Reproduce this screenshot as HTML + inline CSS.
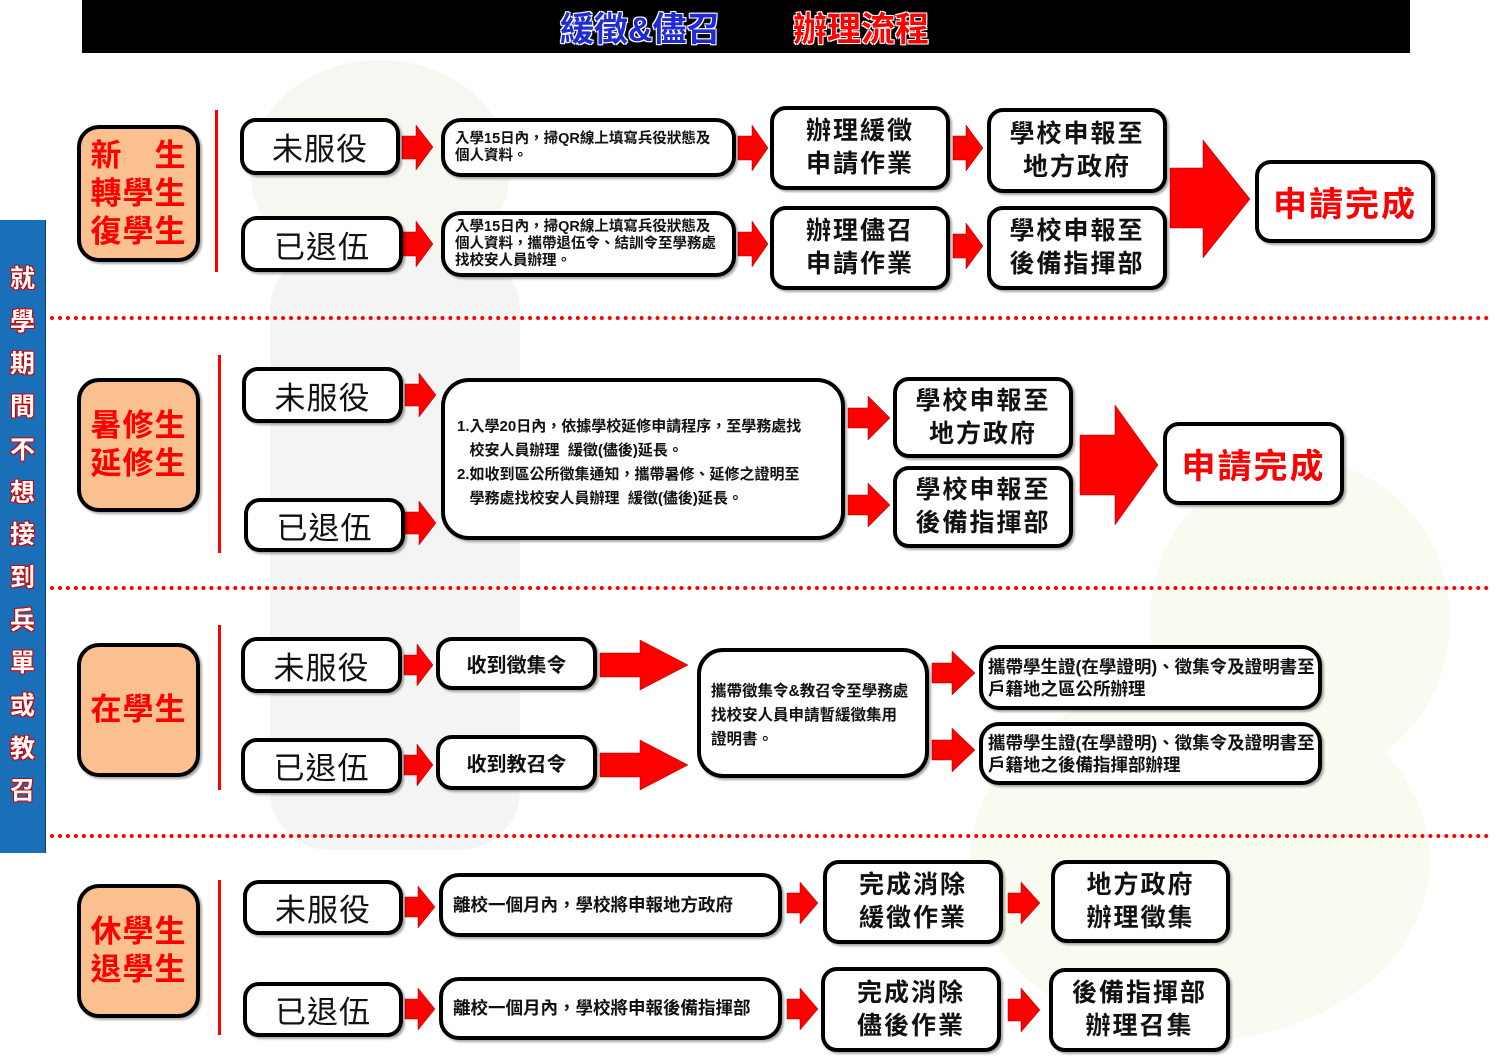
<!DOCTYPE html>
<html><head><meta charset="utf-8">
<style>
html,body{margin:0;padding:0;}
body{width:1500px;height:1060px;position:relative;background:#fff;overflow:hidden;font-family:"Liberation Sans","Noto Sans CJK TC",sans-serif;font-weight:bold;}
.a{position:absolute;}
.b{position:absolute;box-sizing:border-box;border:4px solid #000;border-radius:16px;background:#fff;display:flex;align-items:center;justify-content:center;text-align:center;color:#111;box-shadow:2px 2px 2px rgba(0,0,0,.35);}
.s{font-size:31px;font-weight:normal;letter-spacing:1px;}
.m{font-size:25px;line-height:33px;letter-spacing:2px;}
.t{font-size:14.5px;line-height:17px;justify-content:flex-start;text-align:left;padding-left:10px;border-radius:20px;white-space:nowrap;}
.c{background:#fbc08f;color:#f00;font-size:31px;line-height:38px;border-radius:22px;letter-spacing:1px;}
.v{position:absolute;width:3px;background:#f00;}
.d{position:absolute;left:50px;width:1440px;border-top:4px dotted #f00;}
.done{color:#f00;font-size:34px;letter-spacing:2px;}
</style></head><body>
<svg class="a" style="left:0;top:0" width="1500" height="1060">
<ellipse cx="380" cy="170" rx="130" ry="110" fill="#f5f7f0"/>
<rect x="270" y="250" width="250" height="600" rx="60" fill="#f4f4f4"/>
<ellipse cx="1300" cy="620" rx="150" ry="160" fill="#fafbf0"/>
<ellipse cx="1200" cy="860" rx="230" ry="180" fill="#fafbf0"/>
</svg>
<div class="a" style="left:82px;top:0;width:1328px;height:53px;background:#000;"></div>
<div class="a" style="left:560px;top:2px;font-size:34px;color:#1f2ad8;text-shadow:0 0 2px #fff,1px 1px 0 #fff,-1px -1px 0 #fff,1px -1px 0 #fff,-1px 1px 0 #fff;">緩徵&amp;儘召</div>
<div class="a" style="left:793px;top:2px;font-size:34px;color:#f00;text-shadow:0 0 2px #fff,1px 1px 0 #fff,-1px -1px 0 #fff,1px -1px 0 #fff,-1px 1px 0 #fff;">辦理流程</div>
<div class="a" style="left:0;top:220px;width:45px;height:633px;background:#1a70b8;border-right:1px solid #0a3a70;"></div>
<div class="a" style="left:0;top:258px;width:45px;text-align:center;font-size:25px;line-height:42.7px;color:#fff;text-shadow:1px 1px 0 #c00,-1px -1px 0 #c00,1px -1px 0 #c00,-1px 1px 0 #c00;">就<br>學<br>期<br>間<br>不<br>想<br>接<br>到<br>兵<br>單<br>或<br>教<br>召</div>

<div class="d" style="top:316px"></div>
<div class="d" style="top:586px"></div>
<div class="d" style="top:834px"></div>

<svg class="a" style="left:0;top:0" width="1500" height="1060" fill="#f00" stroke="#900" stroke-width="0.5">
<polygon points="402,136 416,136 416,125 433,147 416,170 416,159 402,159"/>
<polygon points="402,232 416,232 416,221 433,244 416,267 416,256 402,256"/>
<polygon points="738,136 752,136 752,125 768,148 752,171 752,160 738,160"/>
<polygon points="738,232 752,232 752,221 768,244 752,267 752,256 738,256"/>
<polygon points="953,136 966,136 966,125 983,148 966,171 966,160 953,160"/>
<polygon points="953,234 966,234 966,223 983,246 966,269 966,258 953,258"/>
<polygon points="1170,168 1203,168 1203,140 1250,199 1203,258 1203,228 1170,228"/>
<polygon points="405,384 419,384 419,373 436,395 419,417 419,406 405,406"/>
<polygon points="405,512 419,512 419,501 436,523 419,545 419,534 405,534"/>
<polygon points="848,408 868,408 868,396 890,418 868,440 868,428 848,428"/>
<polygon points="848,495 868,495 868,483 890,505 868,527 868,515 848,515"/>
<polygon points="1080,435 1115,435 1115,405 1158,465 1115,525 1115,495 1080,495"/>
<polygon points="404,655 417,655 417,644 433,665 417,686 417,675 404,675"/>
<polygon points="404,755 417,755 417,744 433,765 417,786 417,775 404,775"/>
<polygon points="600,653 640,653 640,640 688,665 640,690 640,677 600,677"/>
<polygon points="600,753 640,753 640,740 688,765 640,790 640,777 600,777"/>
<polygon points="932,663 952,663 952,651 975,673 952,695 952,683 932,683"/>
<polygon points="932,740 952,740 952,728 975,750 952,772 952,760 932,760"/>
<polygon points="405,897 418,897 418,886 435,907 418,928 418,917 405,917"/>
<polygon points="405,999 418,999 418,988 435,1009 418,1030 418,1019 405,1019"/>
<polygon points="787,893 800,893 800,882 818,903 800,924 800,913 787,913"/>
<polygon points="787,999 800,999 800,988 818,1009 800,1030 800,1019 787,1019"/>
<polygon points="1008,893 1021,893 1021,882 1040,903 1021,924 1021,913 1008,913"/>
<polygon points="1008,999 1021,999 1021,988 1040,1010 1021,1032 1021,1021 1008,1021"/>
</svg>

<!-- Section 1 -->
<div class="b c" style="left:77px;top:125px;width:123px;height:137px;">新　生<br>轉學生<br>復學生</div>
<div class="v" style="left:215px;top:110px;height:162px"></div>
<div class="b s" style="left:240px;top:118px;width:160px;height:57px;">未服役</div>
<div class="b s" style="left:241px;top:216px;width:162px;height:56px;">已退伍</div>
<div class="b t" style="left:441px;top:118px;width:295px;height:59px;">入學15日內，掃QR線上填寫兵役狀態及<br>個人資料。</div>
<div class="b t" style="left:441px;top:211px;width:295px;height:66px;">入學15日內，掃QR線上填寫兵役狀態及<br>個人資料，攜帶退伍令、結訓令至學務處<br>找校安人員辦理。</div>
<div class="b m" style="left:770px;top:106px;width:180px;height:84px;">辦理緩徵<br>申請作業</div>
<div class="b m" style="left:770px;top:206px;width:180px;height:84px;">辦理儘召<br>申請作業</div>
<div class="b m" style="left:987px;top:108px;width:180px;height:85px;">學校申報至<br>地方政府</div>
<div class="b m" style="left:987px;top:206px;width:180px;height:84px;">學校申報至<br>後備指揮部</div>
<div class="b done" style="left:1255px;top:160px;width:180px;height:83px;">申請完成</div>

<!-- Section 2 -->
<div class="b c" style="left:77px;top:378px;width:123px;height:134px;">暑修生<br>延修生</div>
<div class="v" style="left:218px;top:355px;height:198px"></div>
<div class="b s" style="left:242px;top:367px;width:161px;height:56px;">未服役</div>
<div class="b s" style="left:244px;top:498px;width:161px;height:54px;">已退伍</div>
<div class="b" style="left:441px;top:378px;width:404px;height:162px;border-radius:28px;display:block;text-align:left;font-size:15px;line-height:24px;padding:33px 0 0 12px;white-space:nowrap;">1.入學20日內，依據學校延修申請程序，至學務處找<br>&nbsp;&nbsp;&nbsp;校安人員辦理&nbsp; 緩徵(儘後)延長。<br>2.如收到區公所徵集通知，攜帶暑修、延修之證明至<br>&nbsp;&nbsp;&nbsp;學務處找校安人員辦理&nbsp; 緩徵(儘後)延長。</div>
<div class="b m" style="left:893px;top:377px;width:180px;height:81px;">學校申報至<br>地方政府</div>
<div class="b m" style="left:893px;top:466px;width:180px;height:82px;">學校申報至<br>後備指揮部</div>
<div class="b done" style="left:1163px;top:422px;width:181px;height:83px;">申請完成</div>

<!-- Section 3 -->
<div class="b c" style="left:77px;top:643px;width:123px;height:134px;">在學生</div>
<div class="v" style="left:218px;top:625px;height:165px"></div>
<div class="b s" style="left:241px;top:637px;width:161px;height:56px;">未服役</div>
<div class="b s" style="left:241px;top:738px;width:161px;height:55px;">已退伍</div>
<div class="b" style="left:436px;top:637px;width:161px;height:53px;font-size:20px;">收到徵集令</div>
<div class="b" style="left:436px;top:735px;width:161px;height:55px;font-size:20px;">收到教召令</div>
<div class="b" style="left:697px;top:648px;width:232px;height:130px;border-radius:26px;display:block;text-align:left;font-size:15.5px;line-height:24px;padding:28px 0 0 10px;white-space:nowrap;">攜帶徵集令&amp;教召令至學務處<br>找校安人員申請暫緩徵集用<br>證明書。</div>
<div class="b t" style="left:979px;top:645px;width:343px;height:65px;font-size:17.5px;line-height:22px;padding-left:5px;">攜帶學生證(在學證明)、徵集令及證明書至<br>戶籍地之區公所辦理</div>
<div class="b t" style="left:979px;top:722px;width:343px;height:63px;font-size:17.5px;line-height:22px;padding-left:5px;">攜帶學生證(在學證明)、徵集令及證明書至<br>戶籍地之後備指揮部辦理</div>

<!-- Section 4 -->
<div class="b c" style="left:77px;top:884px;width:123px;height:134px;">休學生<br>退學生</div>
<div class="v" style="left:218px;top:880px;height:155px"></div>
<div class="b s" style="left:243px;top:880px;width:160px;height:55px;">未服役</div>
<div class="b s" style="left:243px;top:982px;width:160px;height:55px;">已退伍</div>
<div class="b t" style="left:439px;top:873px;width:343px;height:64px;font-size:17.5px;">離校一個月內，學校將申報地方政府</div>
<div class="b t" style="left:439px;top:977px;width:343px;height:63px;font-size:17.5px;">離校一個月內，學校將申報後備指揮部</div>
<div class="b m" style="left:823px;top:860px;width:180px;height:84px;">完成消除<br>緩徵作業</div>
<div class="b m" style="left:821px;top:967px;width:180px;height:85px;">完成消除<br>儘後作業</div>
<div class="b m" style="left:1051px;top:860px;width:179px;height:83px;">地方政府<br>辦理徵集</div>
<div class="b m" style="left:1049px;top:968px;width:181px;height:84px;">後備指揮部<br>辦理召集</div>
</body></html>
